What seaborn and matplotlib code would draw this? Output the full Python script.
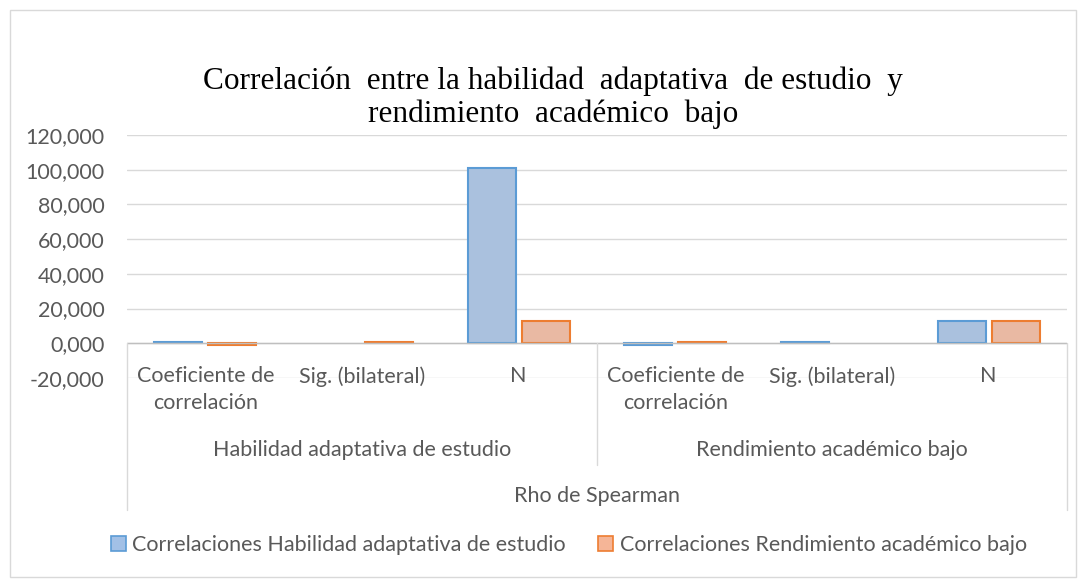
import matplotlib
matplotlib.use("Agg")
import matplotlib.pyplot as plt
import matplotlib.transforms as mtransforms
from matplotlib.lines import Line2D
from matplotlib.patches import Rectangle, Patch
import numpy as np
import pandas as pd
import seaborn as sns

# Datos (Rho de Spearman); NaN = celda vacia
grupos = ["Habilidad adaptativa de estudio", "Rendimiento académico bajo"]
medidas = ["Coeficiente de\ncorrelación", "Sig. (bilateral)", "N"]
series = ["Correlaciones Habilidad adaptativa de estudio",
          "Correlaciones Rendimiento académico bajo"]
valores_habilidad = [1.0, np.nan, 101, -0.9, 0.9, 13]
valores_rendimiento = [-0.9, 0.9, 13, 1.0, np.nan, 13]
y_ticks = [-20, 0, 20, 40, 60, 80, 100, 120]

claves = [f"{g}|{m}" for g in grupos for m in medidas]
df = pd.DataFrame({
    "cat": claves * 2,
    "valor": valores_habilidad + valores_rendimiento,
    "serie": [series[0]] * 6 + [series[1]] * 6,
})

W, H = 1086, 579
def fy(px):
    return 1 - px / H
def fx(px):
    return px / W

gris = "#595959"
linea = "#d9d9d9"
relleno = ["#a2c0e6", "#f5b597"]
borde = ["#5b9bd5", "#ed7d31"]
fs = 15.5

sns.set_theme(style="white")
plt.rcParams["font.family"] = ["Lato", "DejaVu Sans"]

fig = plt.figure(figsize=(W / 100, H / 100), dpi=100)
ax = fig.add_axes([fx(127), fy(378), fx(1067) - fx(127), fy(135) - fy(378)])

sns.barplot(data=df, x="cat", y="valor", hue="serie", order=claves,
            hue_order=series, palette=relleno, width=0.69, gap=0.11,
            linewidth=1.5, ax=ax, legend=False)
for cont, ec in zip(ax.containers, borde):
    for b in cont:
        b.set_edgecolor(ec)
        if np.isnan(b.get_height()):
            b.set_visible(False)

ax.set_ylim(-20, 120)
ax.set_xlim(-0.5, 5.5)
ax.set_yticks(y_ticks)
ax.set_yticklabels([f"{v:.3f}".replace(".", ",") for v in y_ticks],
                   color=gris, fontsize=fs)
ax.tick_params(axis="y", length=0, pad=16)
ax.set_xticks([])
ax.set_xlabel("")
ax.set_ylabel("")
for s in ax.spines.values():
    s.set_visible(False)
ax.yaxis.grid(True, color=linea, linewidth=1)
ax.set_axisbelow(True)
ax.axhline(0, color="#bfbfbf", linewidth=1, zorder=1)

# etiquetas de categoria en varios niveles
tr = mtransforms.blended_transform_factory(ax.transData, fig.transFigure)
for i, clave in enumerate(claves):
    texto = clave.split("|")[1]
    ax.text(i, fy(366), texto, transform=tr, ha="center", va="top",
            color=gris, fontsize=fs, linespacing=1.45)
for j, g in enumerate(grupos):
    ax.text(j * 3 + 1, fy(450), g, transform=tr, ha="center", va="center",
            color=gris, fontsize=fs)
ax.text(2.5, fy(496), "Rho de Spearman", transform=tr, ha="center",
        va="center", color=gris, fontsize=fs)

for x, y1 in [(127, 510), (1067, 510), (597, 465)]:
    fig.add_artist(Line2D([fx(x), fx(x)], [fy(343), fy(y1)], color=linea,
                          linewidth=1, transform=fig.transFigure))

fig.add_artist(Rectangle((fx(10), fy(577)), fx(1076) - fx(10), fy(10) - fy(577),
                         fill=False, edgecolor=linea, linewidth=1,
                         transform=fig.transFigure))

fig.text(fx(553), fy(81), "Correlación  entre la habilidad  adaptativa  de estudio  y",
         ha="center", va="center", fontsize=22.5, family="Liberation Serif",
         color="#000000")
fig.text(fx(553), fy(114), "rendimiento  académico  bajo", ha="center",
         va="center", fontsize=22.5, family="Liberation Serif", color="#000000")

handles = [Patch(facecolor=relleno[k], edgecolor=borde[k], linewidth=1.2)
           for k in range(2)]
fig.legend(handles, series, loc="center", bbox_to_anchor=(fx(569), fy(545)),
           ncol=2, frameon=False, handlelength=0.7, handleheight=0.7,
           handletextpad=0.3, columnspacing=1.5, fontsize=fs,
           labelcolor=gris)

fig.savefig("out.png", dpi=100)
